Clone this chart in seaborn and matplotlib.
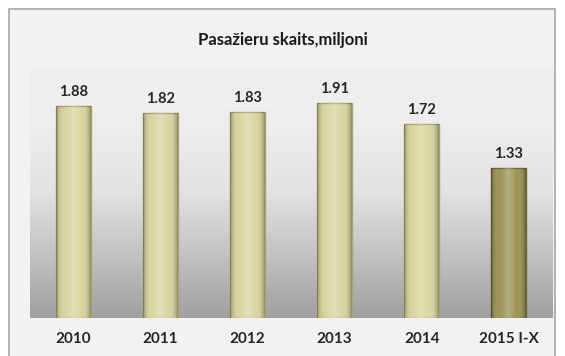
import numpy as np
import pandas as pd
import matplotlib
matplotlib.use("Agg")
import matplotlib.pyplot as plt
from matplotlib.patches import Rectangle
import seaborn as sns

# Passenger numbers per year, millions
years = ["2010", "2011", "2012", "2013", "2014", "2015 I-X"]
passengers = [1.88, 1.82, 1.83, 1.91, 1.72, 1.33]
bar_colors = ["#d9d5a0", "#d9d5a0", "#d9d5a0", "#d9d5a0", "#d9d5a0", "#9c9455"]
edge_colors = ["#a9a46a", "#a9a46a", "#a9a46a", "#a9a46a", "#a9a46a", "#6e6838"]
title = "Pasažieru skaits,miljoni"

sns.set_theme(style="white")
plt.rcParams["font.family"] = ["Lato", "DejaVu Sans"]

W, H = 565, 356
fig = plt.figure(figsize=(W / 100, H / 100), dpi=100)
fig.patch.set_facecolor("white")

# chart frame (runs past the lower edge of the image)
fig.patches.append(Rectangle((9 / W, -10 / H), (555 - 9) / W, (347 + 10) / H,
                             transform=fig.transFigure, facecolor="#f2f2f2",
                             edgecolor="#a6a6a6", linewidth=1.2, zorder=-5))

ax = fig.add_axes([29.5 / W, (H - 318) / H, (552.5 - 29.5) / W, (318 - 68) / H])
ax.set_facecolor("none")
ax.set_zorder(2)

ymax = 250 / 112.7

df = pd.DataFrame({"year": years, "value": passengers})
sns.barplot(data=df, x="year", y="value", hue="year", palette=bar_colors,
            width=0.4, legend=False, ax=ax, zorder=3, saturation=1)

# panel background: vertical gradient from darker gray to light
grad = np.linspace(0, 1, 256).reshape(-1, 1)
ax.imshow(grad, extent=[-0.5, len(years) - 0.5, 0, ymax], aspect="auto",
          cmap=matplotlib.colors.LinearSegmentedColormap.from_list(
              "panel", ["#a0a0a0", "#c2c2c2", "#e2e2e2", "#ededed", "#f0f0f0"]),
          origin="lower", zorder=1)

# cylinder-like shading on each bar
shade = matplotlib.colors.LinearSegmentedColormap.from_list(
    "shade", [(0, 0, 0, 0.25), (1, 1, 1, 0.0), (1, 1, 1, 0.25), (1, 1, 1, 0.0), (0, 0, 0, 0.3)])
hgrad = np.linspace(0, 1, 64).reshape(1, -1)
for patch, ec in zip(list(ax.patches), edge_colors):
    patch.set_edgecolor(ec)
    patch.set_linewidth(1.0)
    x0, y0 = patch.get_x(), patch.get_y()
    w, h = patch.get_width(), patch.get_height()
    im = ax.imshow(hgrad, extent=[x0, x0 + w, y0, y0 + h], aspect="auto",
                   cmap=shade, zorder=4)
    im.set_clip_path(patch)

ax.set_xlim(-0.5, len(years) - 0.5)
ax.set_ylim(0, ymax)

for i, v in enumerate(passengers):
    ax.annotate(f"{v:.2f}", (i, v), xytext=(0, 5), textcoords="offset points",
                ha="center", va="bottom", fontsize=10.5, fontweight="bold",
                color="#262626", zorder=5)

ax.set_xlabel("")
ax.set_ylabel("")
ax.set_yticks([])
ax.tick_params(axis="x", length=0, pad=10)
for lbl in ax.get_xticklabels():
    lbl.set_fontsize(11)
    lbl.set_fontweight("bold")
    lbl.set_color("#262626")
for s in ax.spines.values():
    s.set_visible(False)

fig.text(283 / W, 1 - 40 / H, title, ha="center", va="center",
         fontsize=12, fontweight="bold", color="#1a1a1a")

fig.savefig("out.png", dpi=100)
